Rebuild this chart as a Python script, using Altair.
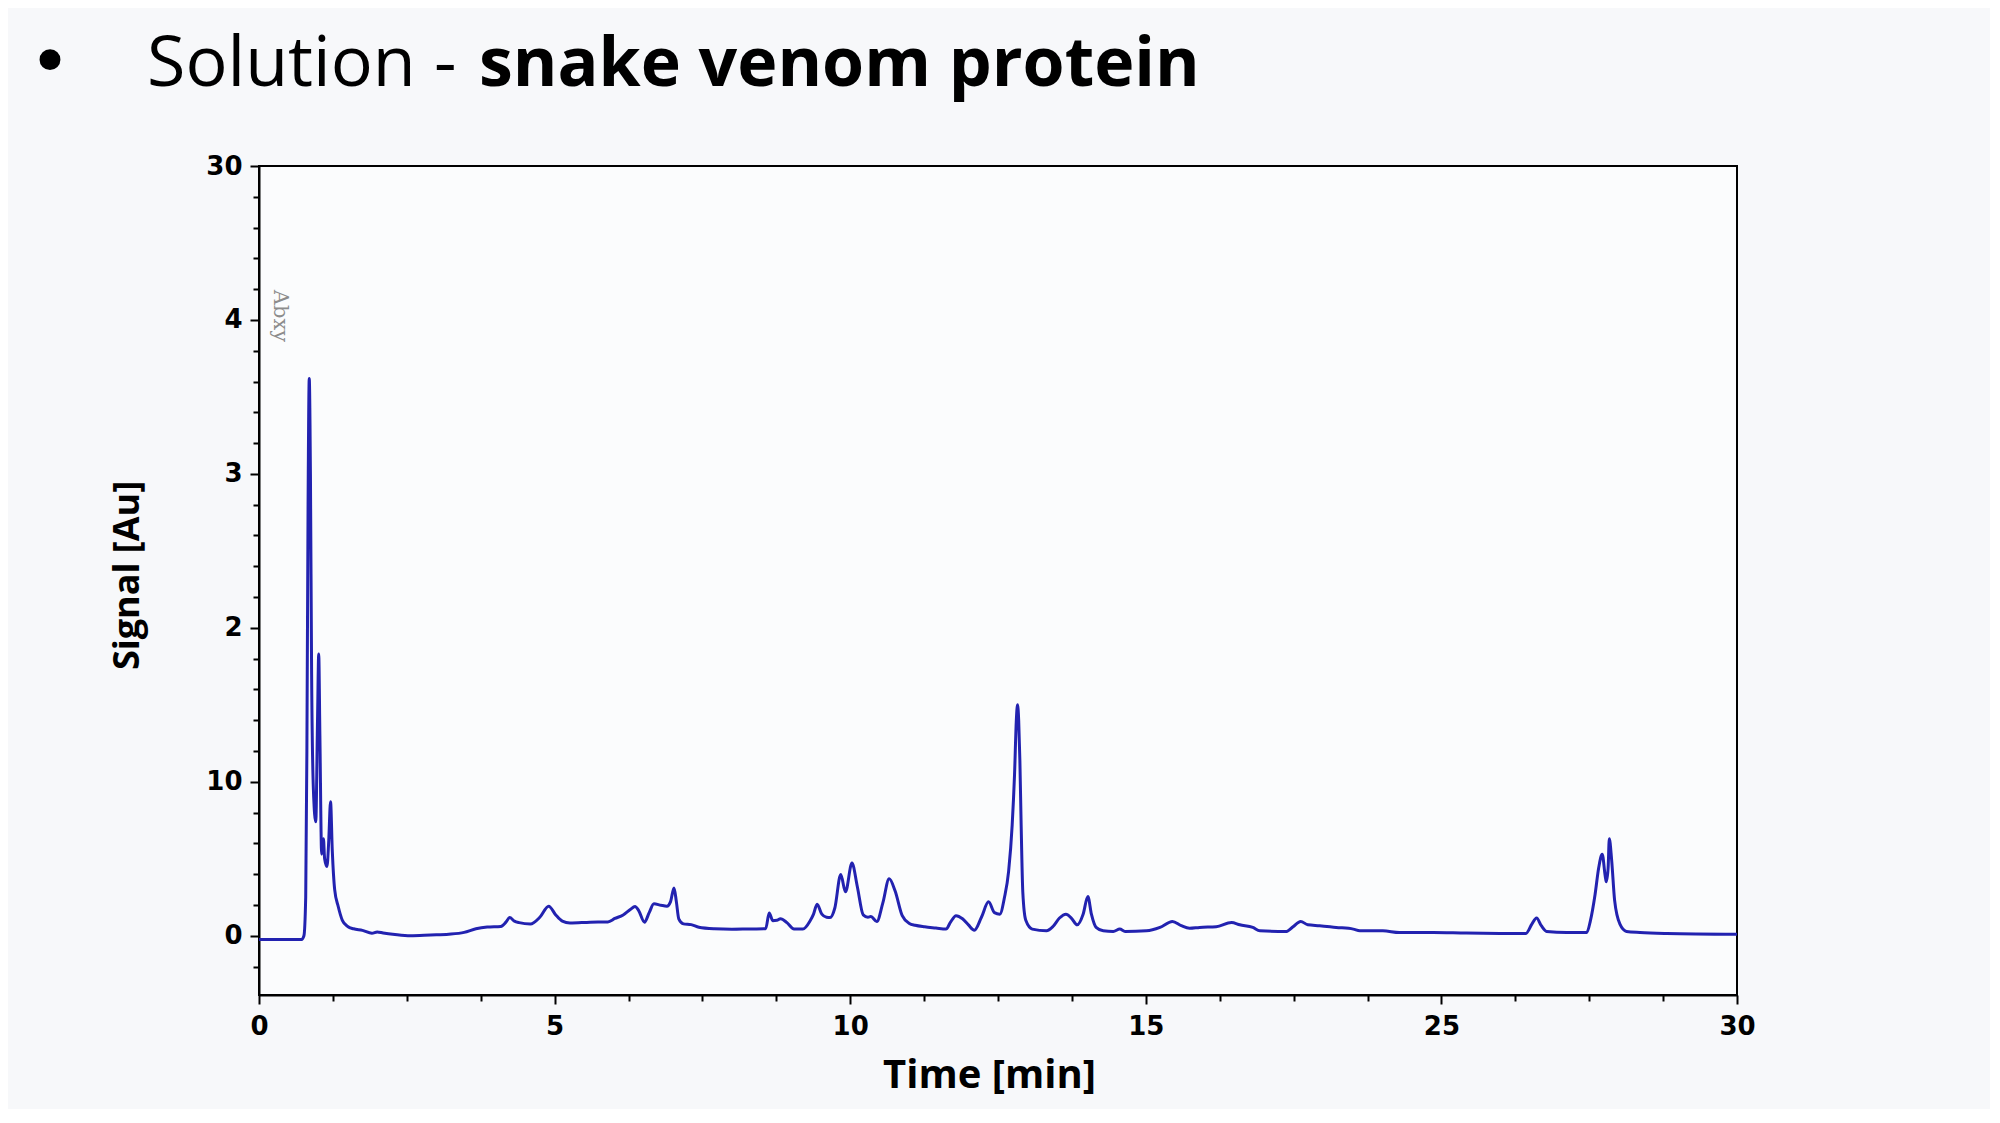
import json
import altair as alt
import pandas as pd

# ---- chart values ----
TIME = [0.00, 0.40, 0.72, 0.76, 0.79, 0.81, 0.83, 0.85, 0.87, 0.89, 0.92, 0.96, 0.99, 1.01, 1.03,
        1.06, 1.09, 1.11, 1.15, 1.18, 1.21, 1.24, 1.28, 1.34, 1.41, 1.50, 1.60, 1.75, 1.91, 2.00,
        2.10, 2.30, 2.56, 2.90, 3.21, 3.47, 3.67, 3.86, 4.09, 4.18, 4.24, 4.32, 4.40, 4.59, 4.75,
        4.90, 5.02, 5.13, 5.26, 5.60, 5.90, 6.02, 6.16, 6.28, 6.36, 6.42, 6.52, 6.60, 6.68, 6.80,
        6.90, 6.96, 7.02, 7.06, 7.10, 7.18, 7.31, 7.44, 7.70, 8.00, 8.30, 8.57, 8.63, 8.69, 8.76,
        8.82, 8.93, 9.05, 9.20, 9.32, 9.38, 9.44, 9.52, 9.60, 9.66, 9.74, 9.84, 9.92, 10.03, 10.12,
        10.22, 10.30, 10.35, 10.45, 10.55, 10.66, 10.76, 10.88, 11.00, 11.10, 11.26, 11.45, 11.62, 11.70, 11.79,
        11.90, 12.00, 12.10, 12.22, 12.34, 12.44, 12.53, 12.61, 12.68, 12.74, 12.78, 12.81, 12.83, 12.85, 12.87,
        12.89, 12.92, 12.97, 13.08, 13.32, 13.43, 13.54, 13.65, 13.74, 13.84, 13.94, 14.02, 14.08, 14.16, 14.28,
        14.45, 14.56, 14.65, 15.01, 15.24, 15.45, 15.60, 15.74, 15.91, 16.19, 16.45, 16.59, 16.81, 16.93, 17.38,
        17.49, 17.62, 17.74, 17.94, 18.22, 18.51, 18.62, 19.01, 19.29, 19.86, 20.42, 20.99, 21.43, 21.53, 21.61,
        21.69, 21.78, 22.12, 22.46, 22.52, 22.60, 22.66, 22.72, 22.77, 22.79, 22.82, 22.84, 22.88, 22.93, 23.02,
        23.13, 23.36, 23.81, 25.00]
SIGNAL = [-0.025, -0.025, -0.024, 0.00, 0.25, 1.20, 2.80, 3.62, 3.00, 1.70, 0.95, 0.74, 1.40, 1.83, 1.30,
          0.53, 0.63, 0.50, 0.45, 0.62, 0.87, 0.55, 0.30, 0.19, 0.10, 0.06, 0.045, 0.035, 0.016, 0.025,
          0.018, 0.008, 0.000, 0.005, 0.010, 0.022, 0.045, 0.056, 0.060, 0.090, 0.118, 0.095, 0.085, 0.076, 0.120,
          0.192, 0.135, 0.095, 0.083, 0.088, 0.090, 0.112, 0.135, 0.170, 0.190, 0.165, 0.088, 0.150, 0.208, 0.198,
          0.192, 0.220, 0.310, 0.220, 0.110, 0.077, 0.072, 0.055, 0.045, 0.042, 0.044, 0.045, 0.148, 0.098, 0.100,
          0.110, 0.085, 0.043, 0.043, 0.095, 0.140, 0.205, 0.140, 0.120, 0.118, 0.180, 0.398, 0.285, 0.472, 0.320,
          0.135, 0.120, 0.125, 0.092, 0.210, 0.370, 0.290, 0.130, 0.080, 0.068, 0.058, 0.050, 0.043, 0.090, 0.130,
          0.110, 0.070, 0.036, 0.120, 0.220, 0.150, 0.140, 0.250, 0.420, 0.720, 1.050, 1.400, 1.500, 1.400, 1.140,
          0.750, 0.280, 0.100, 0.043, 0.032, 0.060, 0.115, 0.140, 0.115, 0.071, 0.140, 0.255, 0.140, 0.054, 0.032,
          0.028, 0.043, 0.028, 0.032, 0.054, 0.093, 0.065, 0.048, 0.054, 0.058, 0.086, 0.071, 0.054, 0.032, 0.028,
          0.058, 0.093, 0.071, 0.065, 0.054, 0.043, 0.032, 0.032, 0.021, 0.021, 0.017, 0.015, 0.015, 0.075, 0.115,
          0.065, 0.028, 0.021, 0.021, 0.097, 0.270, 0.440, 0.530, 0.390, 0.350, 0.440, 0.630, 0.490, 0.230, 0.075,
          0.028, 0.021, 0.015, 0.010]

X_TICK_LABELS = ["0", "5", "10", "15", "25", "30"]
Y_TICK_LABELS = ["0", "10", "2", "3", "4", "30"]
TITLE_PLAIN = "Solution - "
TITLE_BOLD = "snake venom protein"
BULLET = "\u2022"
X_TITLE = "Time [min]"
Y_TITLE = "Signal [Au]"
WATERMARK = "Abxy"

df = pd.DataFrame({"t": TIME, "v": SIGNAL})

x_ticks = [i * 1.25 for i in range(21)]
y_ticks = [round(-0.2 + 0.2 * i, 1) for i in range(27)]

x_label_expr = ("datum.value % 5 == 0 ? " + json.dumps(X_TICK_LABELS)
                + "[round(datum.value / 5)] : ''")
y_is_major = "abs(datum.value - round(datum.value)) < 0.000001 && datum.value >= 0"
y_label_expr = (y_is_major + " ? " + json.dumps(Y_TICK_LABELS)
                + "[round(datum.value)] : ''")

axis_common = dict(
    grid=False,
    tickWidth=2,
    tickColor="black",
    domainColor="black",
    domainWidth=2,
    labelFont="DejaVu Sans",
    labelFontWeight="bold",
    labelFontSize=26,
    labelColor="black",
    labelOverlap=False,
    labelFlush=False,
    titleFont="Open Sans",
    titleFontWeight="bold",
    titleColor="black",
)

x_enc = alt.X(
    "t:Q",
    scale=alt.Scale(domain=[0, 25], nice=False, zero=False),
    axis=alt.Axis(
        values=x_ticks,
        labelExpr=x_label_expr,
        tickSize={"condition": {"test": "datum.value % 5 == 0", "value": 9}, "value": 6},
        labelPadding=9,
        title=X_TITLE,
        titleFontSize=40,
        titleX=730,
        titleY=92,
        titleAlign="center",
        titleBaseline="alphabetic",
        **axis_common,
    ),
)
y_enc = alt.Y(
    "v:Q",
    scale=alt.Scale(domain=[-0.385, 5.0], nice=False, zero=False),
    axis=alt.Axis(
        values=y_ticks,
        labelExpr=y_label_expr,
        tickSize={"condition": {"test": y_is_major, "value": 9}, "value": 6},
        labelPadding=8,
        title=Y_TITLE,
        titleFontSize=36,
        titleAngle=-90,
        titleX=-132,
        titleY=409,
        titleAlign="center",
        titleBaseline="middle",
        **axis_common,
    ),
)

line = alt.Chart(df).mark_line(
    color="#2222b0", strokeWidth=3, interpolate="monotone"
).encode(x=x_enc, y=y_enc)

one = alt.Data(values=[{}])

bullet = alt.Chart(one).mark_text(
    text=BULLET, font="DejaVu Sans", fontSize=72, color="black",
    align="center", baseline="alphabetic"
).encode(x=alt.value(-209), y=alt.value(-80))

title_plain = alt.Chart(one).mark_text(
    text=TITLE_PLAIN, font="Open Sans", fontSize=70, color="black",
    align="left", baseline="alphabetic"
).encode(x=alt.value(-112), y=alt.value(-80))

title_bold = alt.Chart(one).mark_text(
    text=TITLE_BOLD, font="Open Sans", fontSize=68, fontWeight="bold", color="black",
    align="left", baseline="alphabetic"
).encode(x=alt.value(220), y=alt.value(-80))

watermark = alt.Chart(one).mark_text(
    text=WATERMARK, font="DejaVu Serif", fontSize=21, color="#8c8c8c",
    align="center", baseline="middle", angle=90
).encode(x=alt.value(21), y=alt.value(150))

chart = alt.layer(line, bullet, title_plain, title_bold, watermark).properties(
    width=1478,
    height=829,
    autosize=alt.AutoSizeParams(type="none"),
    padding={"left": 251, "top": 158, "right": 253, "bottom": 114},
    background="#f7f8fa",
).configure_view(stroke="black", strokeWidth=2, fill="#fbfcfd")

chart.save("out.html", embed_options={"renderer": "svg", "actions": False})
